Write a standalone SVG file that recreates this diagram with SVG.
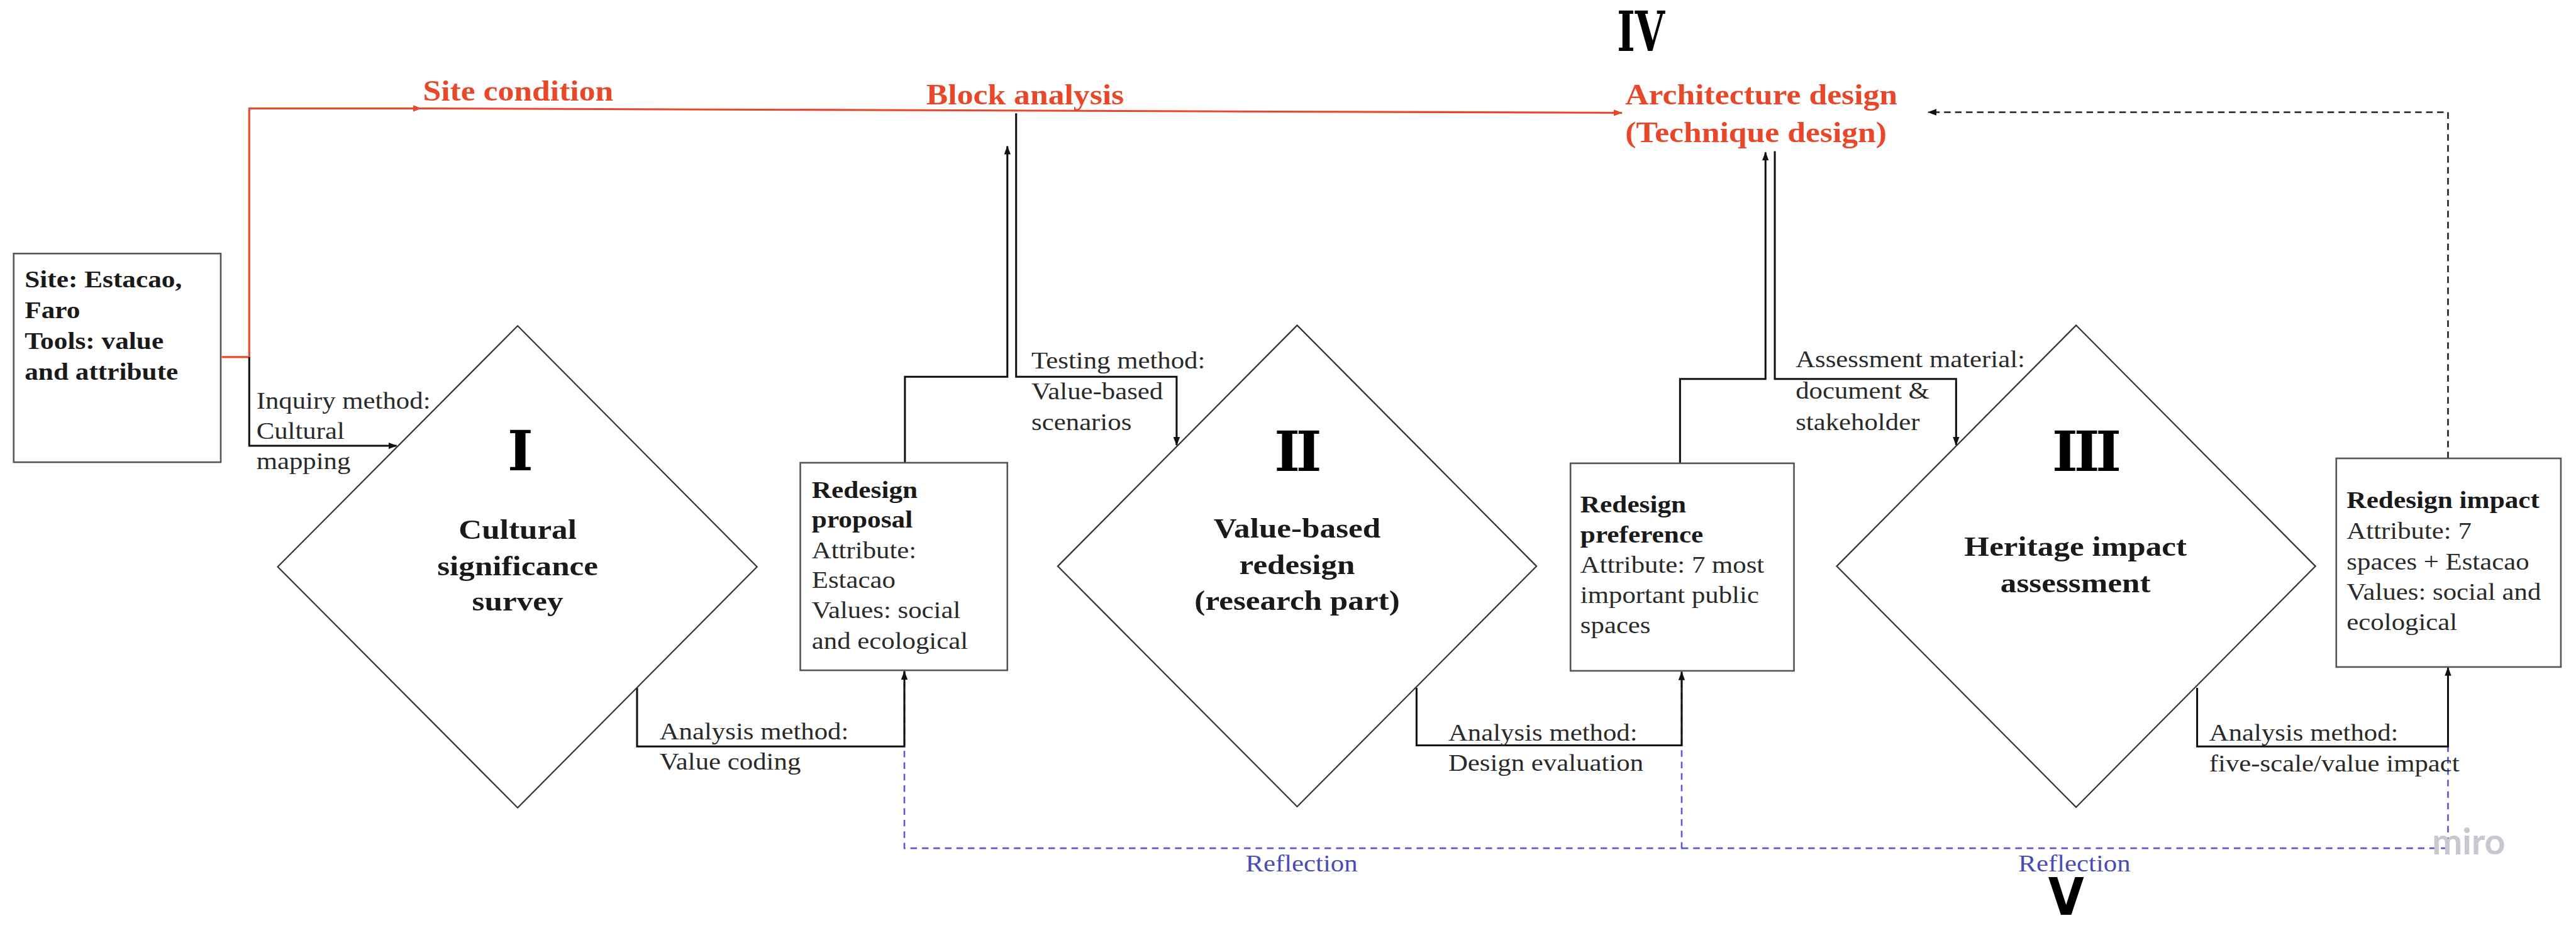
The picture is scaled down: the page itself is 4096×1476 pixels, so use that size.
<svg xmlns="http://www.w3.org/2000/svg" width="4096" height="1476" viewBox="0 0 4096 1476">
<style>
.bx{fill:#fff;stroke:#555;stroke-width:3}
.dm{fill:#fff;stroke:#333;stroke-width:2.5}
.t{font-family:"Liberation Serif","Times New Roman",serif;fill:#2a2a2a}
.lb{font-size:43.5px}
.bd{font-size:44px;font-weight:bold;fill:#1a1a1a}
.tt{font-size:52px;font-weight:bold;fill:#1a1a1a;text-anchor:middle}
.rd{font-size:52.5px;font-weight:bold;fill:#e8472a}
.rf{font-size:43.5px;fill:#4b4bb5;text-anchor:middle}
.num{font-family:"DejaVu Serif",serif;font-weight:bold;font-size:100px;fill:#000}
.c{fill:none;stroke:#111;stroke-width:3.5}
.r{fill:none;stroke:#e8472a;stroke-width:3.5}
.bl{fill:none;stroke:#5a5ad0;stroke-width:3;stroke-dasharray:12 9}
.kd{fill:none;stroke:#222;stroke-width:3;stroke-dasharray:12 8}
</style>
<defs>
<marker id="ah" markerWidth="16" markerHeight="12" refX="15" refY="6" orient="auto" markerUnits="userSpaceOnUse"><path d="M0,0 L16,6 L0,12 z" fill="#111"/></marker>
<marker id="ar" markerWidth="16" markerHeight="12" refX="15" refY="6" orient="auto" markerUnits="userSpaceOnUse"><path d="M0,0 L16,6 L0,12 z" fill="#e8472a"/></marker>
</defs>
<rect width="4096" height="1476" fill="#fff"/>
<g transform="scale(0.871)">
<g id="connectors">
<path class="bl" d="M1651,1224 V1549 H3070 V1226"/>
<path class="bl" d="M3070,1549 H4469 V1219"/>
<path class="kd" d="M4469,837 V205 H3520" marker-end="url(#ah)"/>
<path class="r" d="M405,652 H455 V198 H769" marker-end="url(#ar)"/>
<path class="r" d="M769,198 L2961,206" marker-end="url(#ar)"/>
<path class="c" d="M455,652 V814 H724" marker-end="url(#ah)"/>
<path class="c" d="M1163,1256 V1363 H1651 V1226" marker-end="url(#ah)"/>
<path class="c" d="M2586,1256 V1361 H3070 V1227" marker-end="url(#ah)"/>
<path class="c" d="M4011,1256 V1363 H4469 V1219" marker-end="url(#ah)"/>
<path class="c" d="M1652,845 V688 H1839 V267" marker-end="url(#ah)"/>
<path class="c" d="M1855,207 V688 H2148 V813" marker-end="url(#ah)"/>
<path class="c" d="M3067,846 V692 H3223 V278" marker-end="url(#ah)"/>
<path class="c" d="M3240,276 V692 H3571 V813" marker-end="url(#ah)"/>
<text class="t lb" transform="matrix(1.13 0 0 1 468 746)"><tspan x="0" y="0">Inquiry method:</tspan><tspan x="0" y="55">Cultural</tspan><tspan x="0" y="110">mapping</tspan></text>
<text class="t lb" transform="matrix(1.13 0 0 1 1204 1350)"><tspan x="0" y="0">Analysis method:</tspan><tspan x="0" y="55">Value coding</tspan></text>
<text class="t lb" transform="matrix(1.13 0 0 1 1883 673)"><tspan x="0" y="0">Testing method:</tspan><tspan x="0" y="56">Value-based</tspan><tspan x="0" y="112">scenarios</tspan></text>
<text class="t lb" transform="matrix(1.13 0 0 1 2644 1352)"><tspan x="0" y="0">Analysis method:</tspan><tspan x="0" y="56">Design evaluation</tspan></text>
<text class="t lb" transform="matrix(1.13 0 0 1 3278 671)"><tspan x="0" y="0">Assessment material:</tspan><tspan x="0" y="57">document &amp;</tspan><tspan x="0" y="114">stakeholder</tspan></text>
<text class="t lb" transform="matrix(1.13 0 0 1 4033 1352)"><tspan x="0" y="0">Analysis method:</tspan><tspan x="0" y="57">five-scale/value impact</tspan></text>
<text class="t rf" transform="matrix(1.13 0 0 1 2376 1591)">Reflection</text>
<text class="t rf" transform="matrix(1.13 0 0 1 3787 1591)">Reflection</text>
</g>
<g id="site">
<rect class="bx" x="25" y="463" width="378" height="381"/>
<text class="t bd" transform="matrix(1.13 0 0 1 45 525)"><tspan x="0" y="0">Site: Estacao,</tspan><tspan x="0" y="56">Faro</tspan><tspan x="0" y="112">Tools: value</tspan><tspan x="0" y="168">and attribute</tspan></text>
</g>
<g id="site-condition"><text class="t rd" transform="matrix(1.13 0 0 1 772 184)">Site condition</text></g>
<g id="block-analysis"><text class="t rd" transform="matrix(1.13 0 0 1 1691 191)">Block analysis</text></g>
<g id="architecture-design">
<text class="t rd" transform="matrix(1.13 0 0 1 2967 191)"><tspan x="0" y="0">Architecture design</tspan><tspan x="0" y="69">(Technique design)</tspan></text>
<text class="num" transform="matrix(0.7 0 0 1 2952 93)" font-size="103">IV</text>
</g>
<g id="stage-1">
<polygon class="dm" points="945,595 1382,1035 945,1475 507,1035"/>
<text class="num" x="950" y="859" text-anchor="middle">I</text>
<text class="t tt" transform="matrix(1.13 0 0 1 945 984)"><tspan x="0" y="0">Cultural</tspan><tspan x="0" y="66">significance</tspan><tspan x="0" y="131">survey</tspan></text>
</g>
<g id="redesign-proposal">
<rect class="bx" x="1461" y="845" width="378" height="379"/>
<text class="t lb" transform="matrix(1.13 0 0 1 1482 909)"><tspan x="0" y="0" class="bd">Redesign</tspan><tspan x="0" y="54" class="bd">proposal</tspan><tspan x="0" y="110">Attribute:</tspan><tspan x="0" y="165">Estacao</tspan><tspan x="0" y="220">Values: social</tspan><tspan x="0" y="276">and ecological</tspan></text>
</g>
<g id="stage-2">
<polygon class="dm" points="2368,594 2805,1034 2368,1473 1931,1034"/>
<text class="num" x="2366" y="860" text-anchor="middle" letter-spacing="-7">II</text>
<text class="t tt" transform="matrix(1.13 0 0 1 2368 982)"><tspan x="0" y="0">Value-based</tspan><tspan x="0" y="66">redesign</tspan><tspan x="0" y="132">(research part)</tspan></text>
</g>
<g id="redesign-preference">
<rect class="bx" x="2867" y="846" width="408" height="379"/>
<text class="t lb" transform="matrix(1.13 0 0 1 2885 936)"><tspan x="0" y="0" class="bd">Redesign</tspan><tspan x="0" y="55" class="bd">preference</tspan><tspan x="0" y="110">Attribute: 7 most</tspan><tspan x="0" y="165">important public</tspan><tspan x="0" y="220">spaces</tspan></text>
</g>
<g id="stage-3">
<polygon class="dm" points="3790,594 4227,1034 3790,1474 3353,1034"/>
<text class="num" x="3806" y="860" text-anchor="middle" letter-spacing="-7">III</text>
<text class="t tt" transform="matrix(1.13 0 0 1 3789 1015)"><tspan x="0" y="0">Heritage impact</tspan><tspan x="0" y="66">assessment</tspan></text>
</g>
<g id="redesign-impact">
<rect class="bx" x="4265" y="837" width="410" height="381"/>
<text class="t lb" transform="matrix(1.13 0 0 1 4284 928)"><tspan x="0" y="0" class="bd">Redesign impact</tspan><tspan x="0" y="56">Attribute: 7</tspan><tspan x="0" y="112">spaces + Estacao</tspan><tspan x="0" y="167">Values: social and</tspan><tspan x="0" y="222">ecological</tspan></text>
</g>
<g id="stage-5"><text transform="matrix(0.89 0 0 1 3739 1671)" font-family="DejaVu Sans,sans-serif" font-weight="bold" font-size="95" fill="#000">V</text></g>
<text x="4440" y="1560" font-family="Lato,sans-serif" font-weight="bold" font-size="66" fill="#c8c8d2">miro</text>
</g>
</svg>
